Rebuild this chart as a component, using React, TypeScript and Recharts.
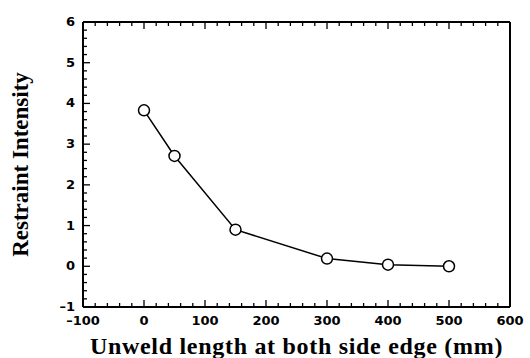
import * as React from "react";
import { LineChart, Line, XAxis, YAxis } from "recharts";

// data
const unweldLength = [0, 50, 150, 300, 400, 500];
const restraintIntensity = [3.83, 2.71, 0.9, 0.19, 0.04, 0.0];

const xMajorTicks = [-100, 0, 100, 200, 300, 400, 500, 600];
const yMajorTicks = [-1, 0, 1, 2, 3, 4, 5, 6];

const data = unweldLength.map((x, i) => ({ x, y: restraintIntensity[i] }));

// minor ticks: 5 steps between majors
function withMinor(majors: number[]) {
  const out: number[] = [];
  for (let i = 0; i < majors.length - 1; i++) {
    const step = (majors[i + 1] - majors[i]) / 5;
    for (let k = 0; k < 5; k++) out.push(Math.round((majors[i] + k * step) * 1000) / 1000);
  }
  out.push(majors[majors.length - 1]);
  return out;
}
const xTicks = withMinor(xMajorTicks);
const yTicks = withMinor(yMajorTicks);

const tickFont = { fontFamily: "DejaVu Sans, sans-serif", fontWeight: 700, fontSize: 13 };
const serif = "Liberation Serif, Times New Roman, serif";

const fmt = (v: number) => (v < 0 ? "\u2013" + Math.abs(v) : String(v));

const isMajor = (v: number, majors: number[]) => majors.some((m) => Math.abs(m - v) < 1e-6);

function BottomTick(props: any) {
  const { x, y, payload } = props;
  const major = isMajor(payload.value, xMajorTicks);
  return (
    <g>
      <line x1={x} x2={x} y1={y} y2={y - (major ? 7 : 4)} stroke="#000" strokeWidth={1.3} />
      {major && (
        <text x={x} y={y + 18} textAnchor="middle" fill="#000" {...tickFont}>
          {fmt(payload.value)}
        </text>
      )}
    </g>
  );
}

function TopTick(props: any) {
  const { x, y, payload } = props;
  const major = isMajor(payload.value, xMajorTicks);
  return <line x1={x} x2={x} y1={y} y2={y + (major ? 7 : 4)} stroke="#000" strokeWidth={1.3} />;
}

function LeftTick(props: any) {
  const { x, y, payload } = props;
  const major = isMajor(payload.value, yMajorTicks);
  return (
    <g>
      <line x1={x} x2={x + (major ? 7 : 4)} y1={y} y2={y} stroke="#000" strokeWidth={1.3} />
      {major && (
        <text x={x - 8} y={y + 4} textAnchor="end" fill="#000" {...tickFont}>
          {fmt(payload.value)}
        </text>
      )}
    </g>
  );
}

function RightTick(props: any) {
  const { x, y, payload } = props;
  const major = isMajor(payload.value, yMajorTicks);
  return <line x1={x} x2={x - (major ? 7 : 4)} y1={y} y2={y} stroke="#000" strokeWidth={1.3} />;
}

function Dot(props: any) {
  const { cx, cy } = props;
  return <circle cx={cx} cy={cy} r={5.5} fill="#fff" stroke="#000" strokeWidth={1.5} />;
}

export default function App() {
  return (
    <div style={{ position: "absolute", left: 0, top: 0, background: "#fff" }}>
      <LineChart width={530} height={358} data={data} margin={{ top: 21, right: 19, bottom: 0, left: 0 }}>
        <XAxis
          xAxisId="bottom"
          dataKey="x"
          type="number"
          domain={[-100, 600]}
          ticks={xTicks}
          interval={0}
          height={51}
          tickSize={0}
          tickMargin={0}
          tickLine={false}
          axisLine={{ stroke: "#000", strokeWidth: 2 }}
          tick={<BottomTick />}
          label={{
            value: "Unweld length at both side edge (mm)",
            position: "insideBottom",
            offset: 4,
            fill: "#000",
            fontFamily: serif,
            fontWeight: 700,
            fontSize: 24,
            style: { letterSpacing: "0.7px" },
          }}
        />
        <XAxis
          xAxisId="top"
          orientation="top"
          dataKey="x"
          type="number"
          domain={[-100, 600]}
          ticks={xTicks}
          interval={0}
          height={1}
          tickSize={0}
          tickMargin={0}
          tickLine={false}
          axisLine={{ stroke: "#000", strokeWidth: 2 }}
          tick={<TopTick />}
        />
        <YAxis
          yAxisId="left"
          type="number"
          domain={[-1, 6]}
          ticks={yTicks}
          interval={0}
          width={83}
          tickSize={0}
          tickMargin={0}
          tickLine={false}
          axisLine={{ stroke: "#000", strokeWidth: 2 }}
          tick={<LeftTick />}
          label={{
            value: "Restraint Intensity",
            angle: -90,
            position: "insideLeft",
            offset: 20,
            style: { textAnchor: "middle" },
            fill: "#000",
            fontFamily: serif,
            fontWeight: 700,
            fontSize: 23,
          }}
        />
        <YAxis
          yAxisId="right"
          orientation="right"
          type="number"
          domain={[-1, 6]}
          ticks={yTicks}
          interval={0}
          width={1}
          tickSize={0}
          tickMargin={0}
          tickLine={false}
          axisLine={{ stroke: "#000", strokeWidth: 2 }}
          tick={<RightTick />}
        />
        <Line
          xAxisId="bottom"
          yAxisId="left"
          dataKey="y"
          type="linear"
          stroke="#000"
          strokeWidth={1.5}
          dot={<Dot />}
          activeDot={false}
          isAnimationActive={false}
        />
      </LineChart>
    </div>
  );
}
